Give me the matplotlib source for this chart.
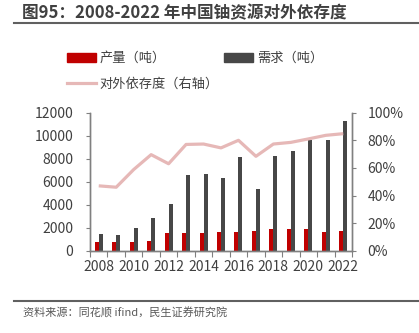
import matplotlib
matplotlib.use("Agg")
import matplotlib.pyplot as plt
from matplotlib.patches import Patch
from matplotlib.lines import Line2D
from matplotlib.ticker import FuncFormatter
import numpy as np

plt.rcParams['font.family'] = ['Noto Sans CJK SC', 'DejaVu Sans']

years = list(range(2008, 2023))
production = [750, 750, 800, 850, 1500, 1500, 1500, 1600, 1600, 1700, 1850, 1850, 1850, 1600, 1700]
demand = [1450, 1400, 2000, 2850, 4050, 6550, 6700, 6300, 8150, 5350, 8250, 8700, 9600, 9600, 11300]
dependency = [47, 46, 58.8, 69.6, 63, 77, 77.3, 74.5, 80, 68.4, 77.3, 78.5, 81, 83.6, 84.8]

title = "图95：2008-2022 年中国铀资源对外依存度"
source = "资料来源：同花顺 ifind，民生证券研究院"
labels = ["产量（吨）", "需求（吨）", "对外依存度（右轴）"]

RED = "#C00000"
DARK = "#474747"
PINK = "#E6B8B7"
TXT = "#404040"
SPINE = "#808080"

fig = plt.figure(figsize=(4.19, 3.33), dpi=100)
W, H = 419, 333
ax = fig.add_axes([90 / W, 1 - 250.7 / H, (352 - 90) / W, (250.7 - 112.7) / H])
ax2 = ax.twinx()

x = np.arange(len(years))
bw = 0.23
ax.bar(x - bw / 2, production, bw, color=RED, zorder=2)
ax.bar(x + bw / 2, demand, bw, color=DARK, zorder=2)
ax2.plot(x, dependency, color=PINK, lw=2.3, solid_capstyle='butt', zorder=3)

ax.set_xlim(-0.5, len(years) - 0.5)
ax.set_ylim(0, 12000)
ax.set_yticks(range(0, 12001, 2000))
ax2.set_ylim(0, 100)
ax2.set_yticks(range(0, 101, 20))
ax2.yaxis.set_major_formatter(FuncFormatter(lambda v, p: f"{int(v)}%"))

ax.set_xticks(np.arange(-0.5, len(years), 1.0))
ax.set_xticklabels([])
ax.set_xticks(x[::2], minor=True)
ax.set_xticklabels([str(y) for y in years[::2]], minor=True)
ax.tick_params(axis='x', which='major', length=4, color=SPINE, direction='out')
ax.tick_params(axis='x', which='minor', length=0, pad=7, labelsize=10, labelcolor=TXT)
ax.tick_params(axis='y', length=3, color=SPINE, pad=9, labelsize=10, labelcolor=TXT)
ax2.tick_params(axis='y', length=3, color=SPINE, pad=8, labelsize=10, labelcolor=TXT)

for a in (ax, ax2):
    a.spines['top'].set_visible(False)
    for s in ('left', 'right', 'bottom'):
        a.spines[s].set_color(SPINE)
        a.spines[s].set_linewidth(1.0)
ax2.set_zorder(ax.get_zorder() + 1)
ax2.patch.set_visible(False)

h_prod = Patch(color=RED)
h_dem = Patch(color=DARK)
h_dep = Line2D([], [], color=PINK, lw=2.3)
fig.legend([h_prod, h_dep, h_dem], [labels[0], labels[2], labels[1]],
           loc='upper left', bbox_to_anchor=(55 / W, 1 - 40 / H), ncol=2, frameon=False,
           fontsize=9.5, handlelength=2.2, handleheight=0.7, handletextpad=0.25,
           columnspacing=0.45, labelspacing=0.95, labelcolor=TXT)

fig.text(22 / W, 1 - 13 / H, title, fontsize=12, fontweight='bold', color=TXT,
         va='center', ha='left')
fig.add_artist(Line2D([14 / W, 1], [1 - 23 / H, 1 - 23 / H], color='#606060', lw=1.5))
fig.add_artist(Line2D([14 / W, 1], [1 - 300.5 / H, 1 - 300.5 / H], color='#606060', lw=1.5))
fig.text(23 / W, 1 - 313 / H, source, fontsize=8, color='#595959', va='center', ha='left')

fig.savefig("out.png", dpi=100)
